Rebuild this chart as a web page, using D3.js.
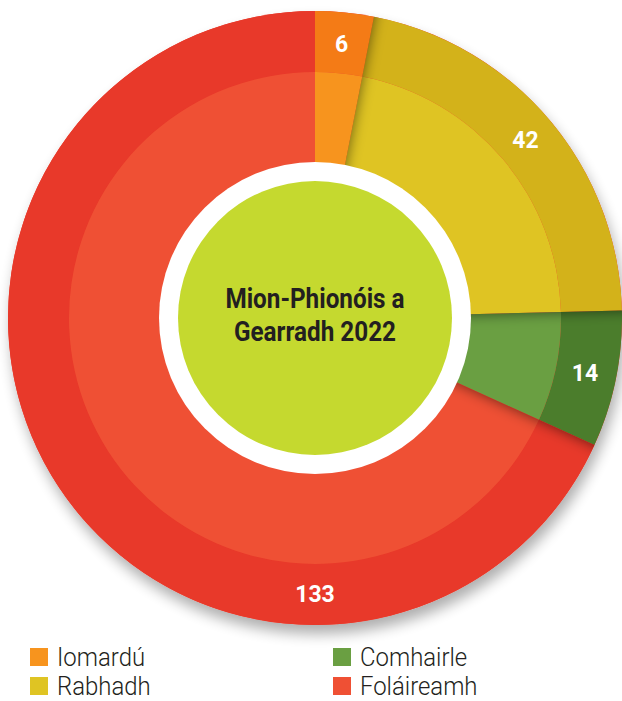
<!DOCTYPE html>
<html lang="ga">
<head>
<meta charset="UTF-8">
<title>Mion-Phionóis a Gearradh 2022</title>
<script src="https://d3js.org/d3.v7.min.js"></script>
<style>
  * { margin: 0; padding: 0; box-sizing: border-box; }
  body { background: #fff; width: 622px; height: 701px; overflow: hidden; font-family: Roboto, 'Noto Sans', sans-serif; }
  svg { display: block; }
</style>
</head>
<body>
<svg id="chart"></svg>
<script>
// sonraí
const categories = ['Iomardú', 'Rabhadh', 'Comhairle', 'Foláireamh'];
const values = [6, 42, 14, 133];
const title = ['Mion-Phionóis a', 'Gearradh 2022'];

// dathanna: fáinne seachtrach (dorcha) agus inmheánach (geal)
const outerColors = ['#f47b16', '#d3b21a', '#4b7d2c', '#e8392a'];
const innerColors = ['#f7941e', '#dfc423', '#6a9f42', '#ef5034'];
const coreColor = '#c5d92f';
const textColor = '#231f20';

(function () {
  const W = 622, H = 701;
  const cx = 315, cy = 318;
  const R = 307, Rmid = 246, Rwhite = 156, Rcore = 137;

  const svg = d3.select('#chart').attr('width', W).attr('height', H);
  const defs = svg.append('defs');

  // scáth faoin gcairt
  const ds = defs.append('filter').attr('id', 'drop')
    .attr('x', '-20%').attr('y', '-20%').attr('width', '140%').attr('height', '140%');
  ds.append('feGaussianBlur').attr('in', 'SourceAlpha').attr('stdDeviation', 7).attr('result', 'b');
  ds.append('feOffset').attr('in', 'b').attr('dx', 3).attr('dy', 9).attr('result', 'o');
  ds.append('feComponentTransfer').attr('in', 'o').attr('result', 's')
    .append('feFuncA').attr('type', 'linear').attr('slope', 0.32);
  const m = ds.append('feMerge');
  m.append('feMergeNode').attr('in', 's');
  m.append('feMergeNode').attr('in', 'SourceGraphic');

  const blur = defs.append('filter').attr('id', 'edgeblur')
    .attr('x', '-50%').attr('y', '-50%').attr('width', '200%').attr('height', '200%');
  blur.append('feGaussianBlur').attr('stdDeviation', 7);

  const g = svg.append('g').attr('transform', `translate(${cx},${cy})`);

  const pie = d3.pie().sort(null).value(d => d);
  const slices = pie(values);
  const total = d3.sum(values);

  const outerArc = d3.arc().innerRadius(Rmid).outerRadius(R);
  const innerArc = d3.arc().innerRadius(Rwhite - 2).outerRadius(Rmid);
  const fullArc = d3.arc().innerRadius(0).outerRadius(R);

  // bonn le scáth
  g.append('circle').attr('r', R).attr('fill', outerColors[3]).attr('filter', 'url(#drop)');

  g.selectAll('path.outer').data(slices).join('path')
    .attr('class', 'outer')
    .attr('d', outerArc)
    .attr('fill', (d, i) => outerColors[i]);

  g.selectAll('path.inner').data(slices).join('path')
    .attr('class', 'inner')
    .attr('d', innerArc)
    .attr('fill', (d, i) => innerColors[i]);

  // scáth bog ag imeall tosaigh gach slisne
  slices.forEach((d, i) => {
    if (i === 0) return;
    defs.append('clipPath').attr('id', 'clip' + i)
      .append('path').attr('d', fullArc(d));
    g.append('g').attr('clip-path', `url(#clip${i})`)
      .append('path')
      .attr('d', d3.arc().innerRadius(0).outerRadius(R + 20)
        .startAngle(d.startAngle - 0.08).endAngle(d.startAngle)())
      .attr('fill', '#000')
      .attr('fill-opacity', 0.55)
      .attr('filter', 'url(#edgeblur)');
  });

  // fáinne bán agus lár
  g.append('circle').attr('r', Rwhite).attr('fill', '#fff');
  g.append('circle').attr('r', Rcore).attr('fill', coreColor);

  // lipéid luacha
  const labelR = (Rmid + R) / 2 - 1;
  g.selectAll('text.val').data(slices).join('text')
    .attr('class', 'val')
    .attr('transform', d => {
      const a = d.value > total / 2 ? Math.PI : (d.startAngle + d.endAngle) / 2;
      return `translate(${labelR * Math.sin(a)},${-labelR * Math.cos(a)})`;
    })
    .attr('text-anchor', 'middle')
    .attr('dy', '0.35em')
    .attr('fill', '#fff')
    .attr('font-size', 23)
    .attr('font-weight', 700)
    .text(d => d.value);

  // teideal sa lár
  const tg = g.append('g').attr('transform', 'scale(0.9,1)');
  tg.selectAll('text.title').data(title).join('text')
    .attr('class', 'title')
    .attr('x', 0)
    .attr('y', (d, i) => -10 + i * 33)
    .attr('text-anchor', 'middle')
    .attr('fill', textColor)
    .attr('font-size', 27)
    .attr('font-weight', 700)
    .text(d => d);

  // eochair
  const colX = [30, 333], rowY = [648, 677];
  const lg = svg.append('g');
  const items = lg.selectAll('g.item').data(categories).join('g')
    .attr('class', 'item')
    .attr('transform', (d, i) => `translate(${colX[Math.floor(i / 2)]},${rowY[i % 2]})`);
  items.append('rect')
    .attr('width', 18).attr('height', 18)
    .attr('fill', (d, i) => innerColors[i]);
  items.append('text')
    .attr('transform', 'translate(27,18) scale(0.92,1)')
    .attr('fill', textColor)
    .attr('font-size', 26)
    .attr('font-weight', 300)
    .text(d => d);
})();
</script>
</body>
</html>
